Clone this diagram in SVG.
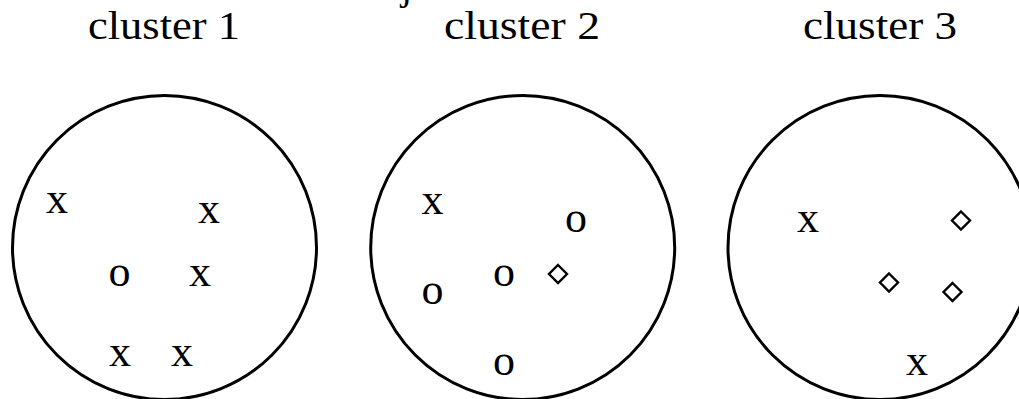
<svg xmlns="http://www.w3.org/2000/svg" width="1019" height="399" viewBox="0 0 1019 399">
<style>
.bg{fill:#ffffff}
.ring{fill:none;stroke:#000;stroke-width:3}
.lbl{font-family:"Liberation Serif","Times New Roman",serif;font-size:40px;fill:#000;text-anchor:middle}
.pt{font-family:"Liberation Serif","Times New Roman",serif;font-size:44px;fill:#000;text-anchor:middle}
.dia{fill:none;stroke:#000;stroke-width:2.4;stroke-linejoin:miter}
</style>
<defs>
<polygon id="diamond" class="dia" points="0,-9 9,0 0,9 -9,0"/>
</defs>
<rect class="bg" x="0" y="0" width="1019" height="399"/>
<text class="lbl" x="401" y="-1" style="text-anchor:start">j</text>
<g id="cluster1">
<text class="lbl" x="164" y="39" textLength="152" lengthAdjust="spacingAndGlyphs">cluster 1</text>
<circle class="ring" cx="164.5" cy="247.5" r="152"/>
<text class="pt" x="57" y="213">x</text>
<text class="pt" x="209" y="223">x</text>
<text class="pt" x="119.5" y="286">o</text>
<text class="pt" x="200" y="286">x</text>
<text class="pt" x="120" y="366">x</text>
<text class="pt" x="182" y="366">x</text>
</g>
<g id="cluster2">
<text class="lbl" x="522" y="39" textLength="156" lengthAdjust="spacingAndGlyphs">cluster 2</text>
<circle class="ring" cx="522.7" cy="247.5" r="152"/>
<text class="pt" x="432.5" y="213.5">x</text>
<text class="pt" x="576" y="232">o</text>
<text class="pt" x="504" y="285.5">o</text>
<use href="#diamond" x="558" y="274"/>
<text class="pt" x="432.5" y="303.5">o</text>
<text class="pt" x="504" y="374.5">o</text>
</g>
<g id="cluster3">
<text class="lbl" x="880" y="39" textLength="154" lengthAdjust="spacingAndGlyphs">cluster 3</text>
<circle class="ring" cx="880" cy="247.5" r="152"/>
<text class="pt" x="808" y="232">x</text>
<use href="#diamond" x="961" y="220.5"/>
<use href="#diamond" x="889" y="282.5"/>
<use href="#diamond" x="952.5" y="292"/>
<text class="pt" x="917" y="374.5">x</text>
</g>
</svg>
